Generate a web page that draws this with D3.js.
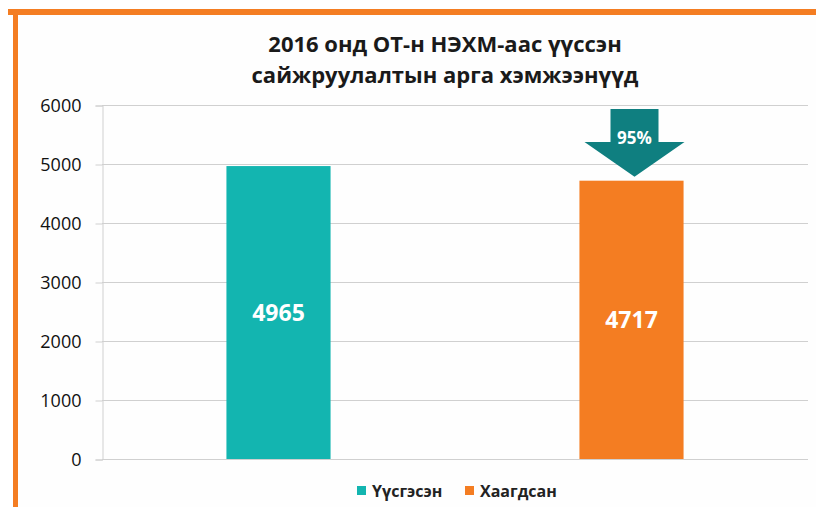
<!DOCTYPE html>
<html><head><meta charset="utf-8">
<script src="https://cdn.jsdelivr.net/npm/d3@7"></script>
<style>
body{margin:0;background:#fff;}
svg{display:block;font-family:"Open Sans",sans-serif;}
</style></head>
<body>
<svg id="c" width="816" height="507"></svg>
<script>
const categories = ["Үүсгэсэн", "Хаагдсан"];
const values = [4965, 4717];
const colors = ["#13b5b0", "#f47d22"];
const yTicks = [0, 1000, 2000, 3000, 4000, 5000, 6000];
const titleLines = ["2016 онд ОТ-н НЭХМ-аас үүссэн", "сайжруулалтын арга хэмжээнүүд"];
const arrowLabel = "95%";

const svg = d3.select("#c");
const W = 816, H = 507;
const m = {left: 102, right: 8, top: 105, bottom: 48};
const x0 = m.left, x1 = W - m.right, y0 = H - m.bottom, y1 = m.top;

// background + frame
svg.append("rect").attr("x",0).attr("y",0).attr("width",W).attr("height",H).attr("fill","#fff");
svg.append("rect").attr("x",18).attr("y",15).attr("width",W-18).attr("height",H-15).attr("fill","#fefefe");
svg.append("rect").attr("x",8).attr("y",9).attr("width",W-8).attr("height",6).attr("fill","#f47d22");
svg.append("rect").attr("x",13).attr("y",9).attr("width",5).attr("height",H-9).attr("fill","#f47d22");

const x = d3.scaleBand().domain(categories).range([x0, x1]).padding(0);
const y = d3.scaleLinear().domain([0, 6000]).range([y0, y1]);

// gridlines
svg.append("g").selectAll("line").data(yTicks).join("line")
  .attr("x1", x0).attr("x2", x1)
  .attr("y1", d => y(d)+0.5).attr("y2", d => y(d)+0.5)
  .attr("stroke", "#d0d0d0").attr("stroke-width", 1.2);

// y axis
const yAxis = d3.axisLeft(y).tickValues(yTicks).tickFormat(d3.format("d")).tickSize(7).tickPadding(14);
const ga = svg.append("g").attr("transform", `translate(${x0+0.5},0.5)`).call(yAxis);
ga.select(".domain").attr("stroke", "#d0d0d0");
ga.selectAll(".tick line").attr("stroke", "#d0d0d0");
ga.selectAll(".tick text").attr("fill", "#111").style("font-size", "18px").style("font-family", "'Open Sans',sans-serif");

// bars
const barFrac = 0.295;
const bw = x.bandwidth() * barFrac;
svg.append("g").selectAll("rect").data(values).join("rect")
  .attr("x", (d,i) => x(categories[i]) + x.bandwidth()/2 - bw/2)
  .attr("y", d => y(d))
  .attr("width", bw)
  .attr("height", d => y(0) - y(d))
  .attr("fill", (d,i) => colors[i]);

// bar labels
svg.append("g").selectAll("text").data(values).join("text")
  .attr("x", (d,i) => x(categories[i]) + x.bandwidth()/2)
  .attr("y", d => (y(d) + y(0))/2)
  .attr("dy", "0.36em")
  .attr("text-anchor", "middle")
  .attr("fill", "#fff").attr("font-weight", "bold").attr("font-size", "23px")
  .text(d => d);

// arrow above second bar
const cx = x(categories[1]) + x.bandwidth()/2 + 3;
const tipY = y(values[1]) - 4;
const path = d3.path();
path.moveTo(cx - 24, 109);
path.lineTo(cx + 24, 109);
path.lineTo(cx + 24, 142);
path.lineTo(cx + 50, 142);
path.lineTo(cx, tipY);
path.lineTo(cx - 50, 142);
path.lineTo(cx - 24, 142);
path.closePath();
svg.append("path").attr("d", path.toString()).attr("fill", "#0f7f80");
svg.append("text").attr("x", cx).attr("y", 138).attr("dy", "0.36em")
  .attr("text-anchor", "middle").attr("fill", "#fff").attr("font-weight", "bold").attr("font-size", "17px")
  .text(arrowLabel);

// title
svg.append("g").selectAll("text").data(titleLines).join("text")
  .attr("x", 445).attr("y", (d,i) => 44 + i*31).attr("dy", "0.36em")
  .attr("text-anchor", "middle").attr("fill", "#1a1a1a")
  .attr("font-weight", "bold").attr("font-size", "22px")
  .text(d => d);

// legend
const leg = svg.append("g");
const legX = [357, 465];
categories.forEach((c, i) => {
  leg.append("rect").attr("x", legX[i]).attr("y", 486).attr("width", 9).attr("height", 9).attr("fill", colors[i]);
  leg.append("text").attr("x", legX[i] + 15).attr("y", 491).attr("dy", "0.36em")
    .attr("fill", "#222").attr("font-weight", "bold").attr("font-size", "16px").text(c);
});
</script>
</body></html>
